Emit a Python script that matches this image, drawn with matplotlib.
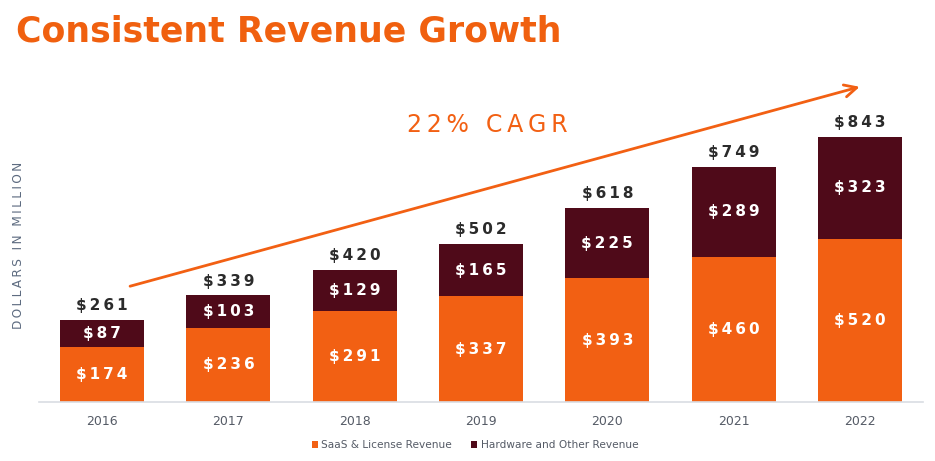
import numpy as np
import matplotlib.pyplot as plt

# revenue figures, $M
years = ['2016', '2017', '2018', '2019', '2020', '2021', '2022']
saas = [174, 236, 291, 337, 393, 460, 520]
hardware = [87, 103, 129, 165, 225, 289, 323]
totals = [261, 339, 420, 502, 618, 749, 843]

orange = '#F26013'
maroon = '#4F0A19'


def spaced(s):
    # fake the wide letter spacing of the original
    return '\u2009'.join(s)


fig = plt.figure(figsize=(9.35, 4.61), dpi=100)
ax = fig.add_axes([39 / 935, 1 - 402 / 461, 884 / 935, 342 / 461])

x = np.arange(len(years))
w = 0.665
ax.bar(x, saas, width=w, color=orange, label='SaaS & License Revenue')
ax.bar(x, hardware, bottom=saas, width=w, color=maroon, label='Hardware and Other Revenue')

for i in range(len(years)):
    ax.text(x[i], saas[i] / 2, spaced('$%d' % saas[i]), ha='center', va='center',
            color='white', fontsize=11, fontweight='bold')
    ax.text(x[i], saas[i] + hardware[i] / 2, spaced('$%d' % hardware[i]), ha='center',
            va='center', color='white', fontsize=11, fontweight='bold')
    ax.text(x[i], totals[i] + 22, spaced('$%d' % totals[i]), ha='center', va='bottom',
            color='#2b2b2b', fontsize=11, fontweight='bold')

ax.set_xlim(-0.5, len(years) - 0.5)
ax.set_ylim(0, 1088)
ax.set_xticks(x)
ax.set_xticklabels(years, color='#555b66', fontsize=9)
ax.tick_params(axis='x', length=0, pad=9)
ax.set_yticks([])
for side in ['top', 'right', 'left']:
    ax.spines[side].set_visible(False)
ax.spines['bottom'].set_color('#d9dde3')
ax.spines['bottom'].set_linewidth(1.2)

# CAGR arrow
ax.annotate('', xy=(6.02, 1005), xytext=(0.2, 366),
            arrowprops=dict(arrowstyle='->', color=orange, lw=2, mutation_scale=22))
ax.text(3.05, 880, spaced('22% CAGR'), ha='center', va='center', color=orange,
        fontsize=17)

fig.text(19 / 935, 1 - 245 / 461, spaced('DOLLARS IN MILLION'), rotation=90,
         ha='center', va='center', color='#5d6b80', fontsize=8.7)

fig.text(16 / 935, 1 - 31 / 461, 'Consistent Revenue Growth', ha='left', va='center',
         color='#F0600F', fontsize=25, fontweight='bold')

fig.legend(loc='center', bbox_to_anchor=(0.508, 1 - 445 / 461), ncol=2, frameon=False,
           fontsize=7.6, handlelength=0.6, handleheight=0.6, handletextpad=0.3,
           columnspacing=1.8, labelcolor='#555b66')

fig.savefig('out.png', dpi=100)
